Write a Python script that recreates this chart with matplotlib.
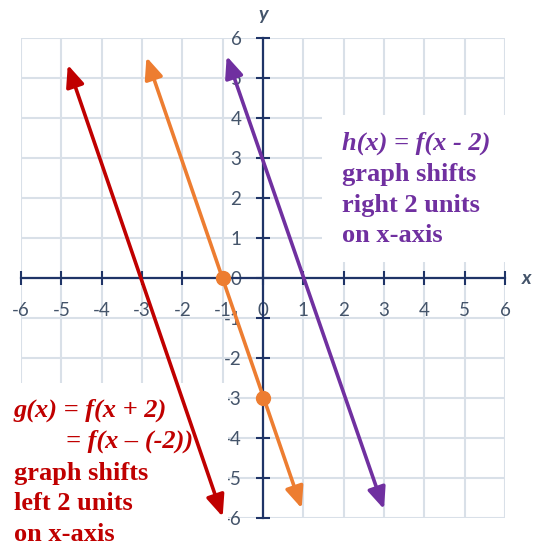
import matplotlib.pyplot as plt
from matplotlib.patches import FancyArrowPatch, Rectangle

# line end points (arrow tips)
g_x = [-4.84, -1.0]
g_y = [5.33, -5.97]
f_x = [-2.89, 0.96]
f_y = [5.52, -5.76]
h_x = [-0.9, 3.0]
h_y = [5.55, -5.78]

# marked points on f(x)
pts_x = [-1, 0]
pts_y = [0, -3]

ticks = list(range(-6, 7))

h_lines = ["h(x) = f(x - 2)", "graph shifts", "right 2 units", "on x-axis"]
g_lines = ["g(x) = f(x + 2)", "= f(x \u2013 (-2))", "graph shifts", "left 2 units", "on x-axis"]

RED = "#c00000"
ORANGE = "#ed7d31"
PURPLE = "#7030a0"
NAVY = "#1f3467"
GRAY = "#44546a"
GRID = "#d9e0e8"

plt.rcParams['font.family'] = ['Lato', 'DejaVu Sans']
plt.rcParams['axes.unicode_minus'] = False

fig = plt.figure(figsize=(5.35, 5.47), dpi=100)
ax = fig.add_axes([21 / 535, 29 / 547, 484 / 535, 480 / 547])
ax.set_xlim(-6, 6)
ax.set_ylim(-6, 6)
ax.set_xticks(ticks)
ax.set_yticks(ticks)
ax.grid(True, color=GRID, lw=1.5)
for gl in ax.get_xgridlines() + ax.get_ygridlines():
    gl.set_clip_on(False)

for side in ["top", "right"]:
    ax.spines[side].set_visible(False)
for side in ["left", "bottom"]:
    ax.spines[side].set_position(("data", 0))
    ax.spines[side].set_color(NAVY)
    ax.spines[side].set_linewidth(1.6)
    ax.spines[side].set_zorder(2.5)

ax.tick_params(direction="inout", length=10, width=1.5, color=NAVY,
               labelcolor=GRAY, labelsize=13.5)
ax.tick_params(axis="x", pad=12)
ax.tick_params(axis="y", pad=10.5)

# white boxes behind the notes
ax.add_patch(Rectangle((1.46, 0.4), 5.3, 3.68, facecolor="white",
                       edgecolor="none", zorder=2, clip_on=False))
ax.add_patch(Rectangle((-6.8, -6.9), 5.93, 4.27, facecolor="white",
                       edgecolor="none", zorder=2, clip_on=False))

for xs, ys, c in [(g_x, g_y, RED), (f_x, f_y, ORANGE), (h_x, h_y, PURPLE)]:
    arr = FancyArrowPatch((xs[0], ys[0]), (xs[1], ys[1]),
                          arrowstyle="<|-|>,head_length=13,head_width=5.5",
                          mutation_scale=1, lw=2.6, color=c,
                          shrinkA=0, shrinkB=0, zorder=3)
    ax.add_patch(arr)

ax.plot(pts_x, pts_y, "o", color=ORANGE, ms=10, zorder=4)

ax.text(0, 6.45, "y", ha="center", va="baseline", fontsize=14,
        fontweight="bold", fontstyle="italic", color=GRAY)
ax.text(6.53, -0.15, "x", ha="center", va="baseline", fontsize=14,
        fontweight="bold", fontstyle="italic", color=GRAY)

# purple note
h_base = [3.2, 2.42, 1.66, 0.9]
for i, s in enumerate(h_lines):
    ax.text(1.96, h_base[i], s, ha="left", va="baseline", fontsize=19,
            family="Liberation Serif", fontweight="bold",
            fontstyle="italic" if i == 0 else "normal", color=PURPLE, zorder=5)

# red note
g_base = [-3.47, -4.25, -5.05, -5.8, -6.57]
g_left = [-6.18, -4.89, -6.18, -6.18, -6.18]
for i, s in enumerate(g_lines):
    ax.text(g_left[i], g_base[i], s, ha="left", va="baseline", fontsize=19,
            family="Liberation Serif", fontweight="bold",
            fontstyle="italic" if i < 2 else "normal", color=RED, zorder=5)

fig.savefig("out.png", dpi=100)
